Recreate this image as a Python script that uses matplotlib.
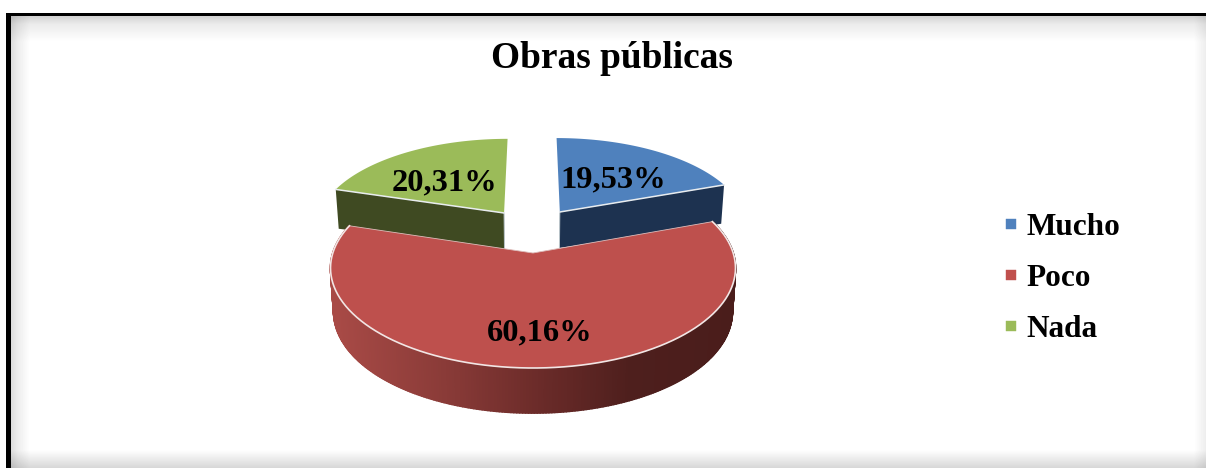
import numpy as np
import matplotlib
matplotlib.use("Agg")
import matplotlib.pyplot as plt
from matplotlib.collections import PolyCollection
from matplotlib.colors import to_rgb
from matplotlib.lines import Line2D

# ---- data ----
title = "Obras públicas"
categories = ["Mucho", "Poco", "Nada"]
values = [19.53, 60.16, 20.31]
value_labels = ["19,53%", "60,16%", "20,31%"]

# ---- style ----
top_colors = ["#4F81BD", "#BE504D", "#9BBB59"]
wall_colors = ["#1D3250", "#6D2C2A", "#3F4A22"]
poco_ramp_x = [335, 450, 533, 630, 735]
poco_ramp_c = ["#A84A46", "#883A37", "#6D2C2A", "#4E1F1D", "#4A1D1B"]
serif = "Liberation Serif"

# perspective ground plane -> picture
CX, CY, A, B, K = 533.0, 253.0, 97.75, 200.2, 0.15
offsets = [(0.143, 0.4476), (0.0, 0.0), (-0.154, 0.436)]
radii = [0.98, 1.0, 0.98]


def project(X, Y):
    s = 1.0 / (1.0 + K * Y)
    return CX + B * X * s, CY - A * Y * s


def project_low(X, Y):
    s = 1.0 / (1.0 + K * Y)
    x, y = project(X, Y)
    return CX + (x - CX) * 0.985, y + 38.3 * s + 4.0 * X ** 2


fig = plt.figure(figsize=(12.06, 4.68), dpi=100)
ax = fig.add_axes([0, 0, 1, 1])
ax.set_xlim(0, 1206)
ax.set_ylim(468, 0)
ax.axis("off")

# ---- frame with soft inner shadow ----
xs = np.arange(1206) + 0.5
ys = np.arange(468) + 0.5
shade_x = np.interp(xs, [11, 18, 30, 1194, 1206], [0.86, 0.93, 1, 1, 0.93])
shade_y = np.interp(ys, [16, 24, 42, 450, 468], [0.82, 0.92, 1, 1, 0.84])
shade = np.outer(shade_y, shade_x)
ax.imshow(shade, cmap="gray", vmin=0, vmax=1, extent=(0, 1206, 468, 0),
          aspect="auto", zorder=0, interpolation="bilinear")
ax.set_xlim(0, 1206)
ax.set_ylim(468, 0)
# white margin outside the frame line, then the line itself
ax.fill([0, 1206, 1206, 6, 6, 0], [0, 0, 13, 13, 468, 468], color="white", lw=0, zorder=1)
ax.fill([6, 1206, 1206, 11, 11, 6], [13, 13, 16, 16, 468, 468],
        color="black", lw=0, zorder=1)

# ---- slices ----
fracs = np.array(values) / np.sum(values)
ends = np.cumsum(fracs) * 2 * np.pi
starts = ends - fracs * 2 * np.pi

for i in [0, 2, 1]:  # Poco is nearest, painted last
    th = np.linspace(starts[i], ends[i], 300)
    ox, oy = offsets[i]
    R = radii[i]
    PX, PY = ox + R * np.sin(th), oy + R * np.cos(th)
    tx, ty = project(PX, PY)
    lx, ly = project_low(PX, PY)
    ax0, ay0 = project(ox, oy)
    bx0, by0 = project_low(ox, oy)

    if i == 1:
        quads = []
        cols = []
        ramp = np.array([to_rgb(c) for c in poco_ramp_c])
        for j in range(len(th) - 1):
            quads.append([(tx[j], ty[j]), (tx[j + 1], ty[j + 1]),
                          (lx[j + 1], ly[j + 1]), (lx[j], ly[j])])
            xm = 0.5 * (tx[j] + tx[j + 1])
            cols.append([np.interp(xm, poco_ramp_x, ramp[:, k]) for k in range(3)])
        ax.add_collection(PolyCollection(quads, facecolors=cols, edgecolors=cols,
                                         linewidths=1.2, zorder=3))
    else:
        # radial cut face that looks towards the viewer
        k = -1 if i == 0 else 0
        ax.fill([ax0, tx[k], lx[k], bx0], [ay0, ty[k], ly[k], by0],
                color=wall_colors[i], lw=0, zorder=2)
        ax.plot([bx0, ax0], [by0, ay0], color="#B9C4C9", lw=0.7, zorder=2)

    # top face
    ax.fill(np.r_[ax0, tx], np.r_[ay0, ty], color=top_colors[i], lw=0,
            zorder=3 + (i == 1))
    # pale rim light
    if i == 1:
        ax.plot([tx[-1], ax0, tx[0]], [ty[-1], ay0, ty[0]],
                color="#DDBDBB", lw=0.6, zorder=4)
        ax.plot(tx, ty, color="#F2E6E5", lw=1.2, zorder=4)
    else:
        k = -1 if i == 0 else 0
        ax.plot([ax0, tx[k]], [ay0, ty[k]], color="#E8ECEF", lw=1.1, zorder=3)

# ---- text ----
ax.text(612, 59, title, family=serif, weight="bold", fontsize=26.9,
        ha="center", va="center", color="black", zorder=6)
label_xy = [(613, 180), (540, 333), (444, 183)]
for (lx_, ly_), lab in zip(label_xy, value_labels):
    ax.text(lx_, ly_, lab, family=serif, weight="bold", fontsize=23.4,
            ha="center", va="center", color="black", zorder=6)

handles = [Line2D([], [], ls="none", marker="s", ms=7.9, mfc=c, mec=c, mew=0.3,
                  label=n) for c, n in zip(["#4F81BD", "#C0504D", "#9BBB59"], categories)]
leg = ax.legend(handles=handles, loc="center left", bbox_to_anchor=(1003, 278.5),
                bbox_transform=ax.transData, frameon=False, borderpad=0, borderaxespad=0,
                handlelength=0.5, handletextpad=0.246, labelspacing=0.70,
                prop={"family": serif, "weight": "bold", "size": 22.5})
leg.set_zorder(6)

fig.savefig("out.png", dpi=100)
